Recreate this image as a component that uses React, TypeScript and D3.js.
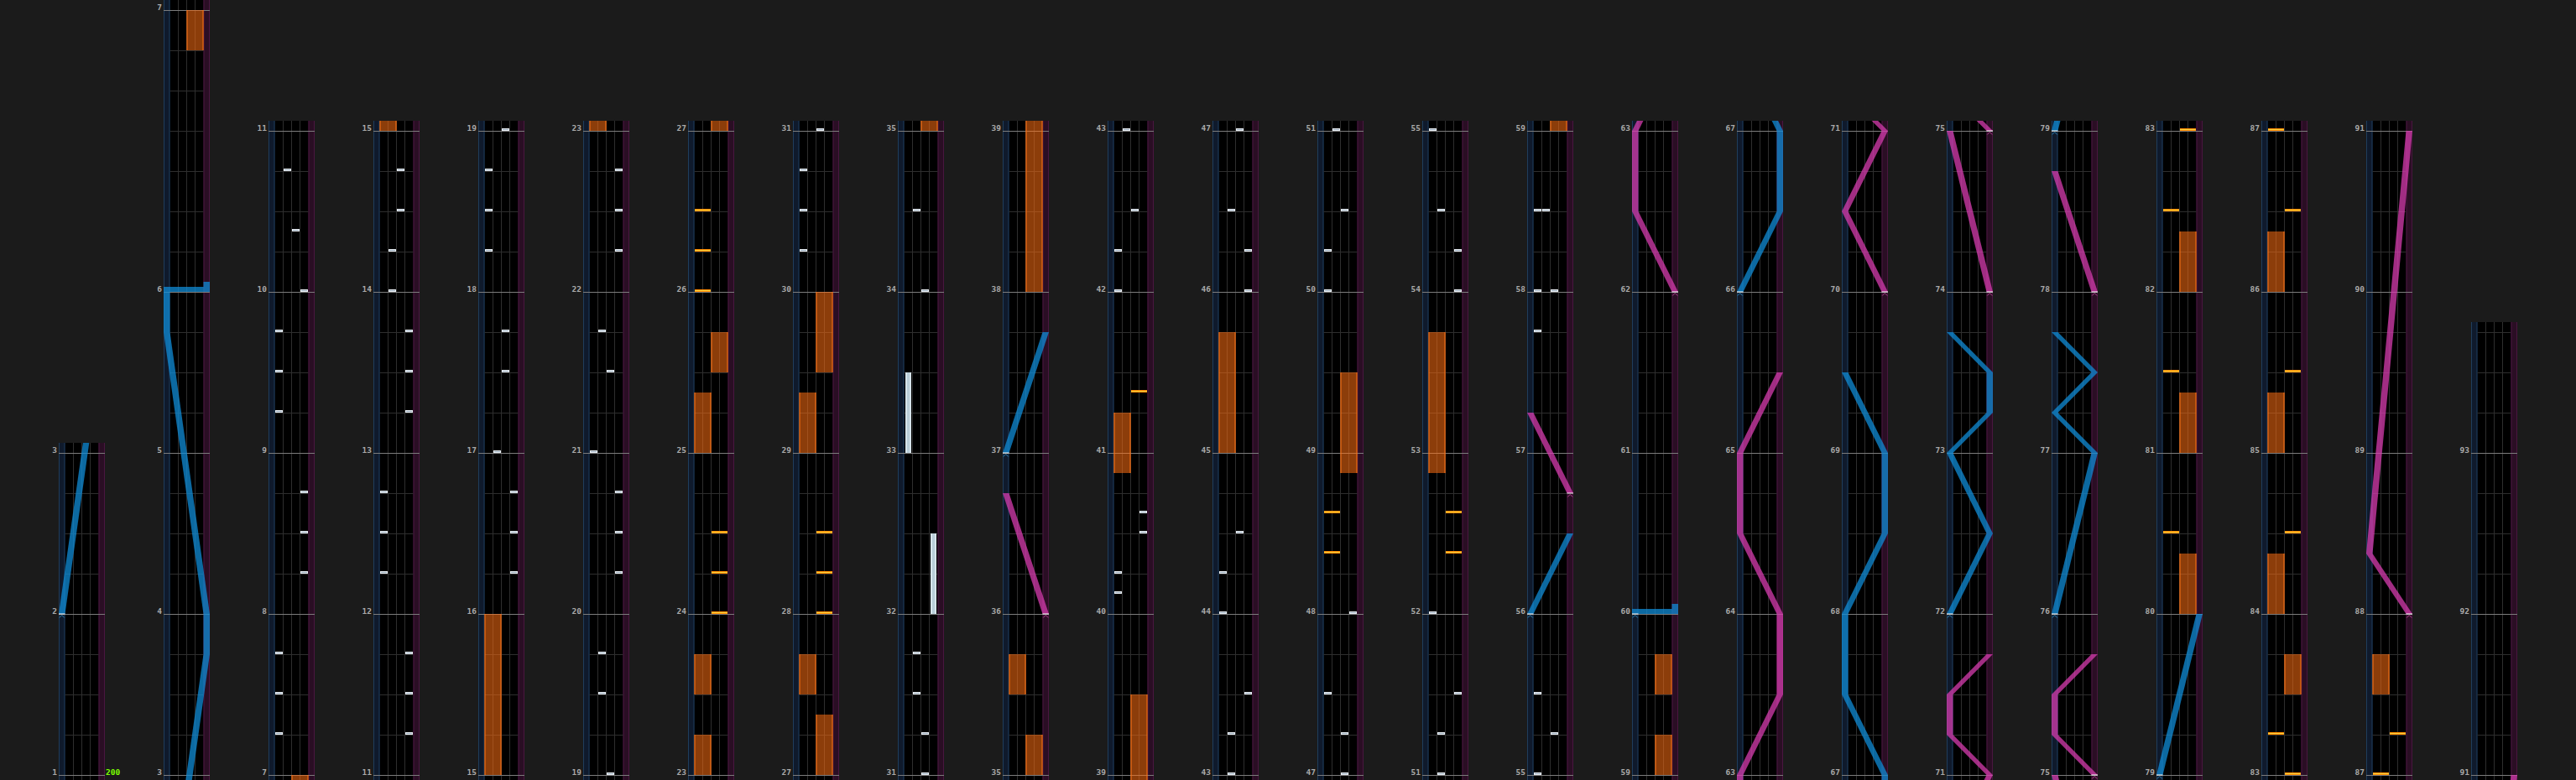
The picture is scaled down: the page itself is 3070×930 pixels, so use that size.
import React from 'react'
import * as d3 from 'd3'

// chart layout (measures / time signatures)
const LAST_MEASURE = 93
const SONG_END: [number, number] = [93, 3]
const ODD_MEASURES: [number, number][] = [[6, 7]]
const COLUMN_FIRST_MEASURES = [1, 3, 7, 11, 15, 19, 23, 27, 31, 35, 39, 43, 47, 51, 55, 59, 63, 67, 71, 75, 79, 83, 87, 91]
const BPM_CHANGES: [number, number, number][] = [[1, 0, 200]]

// [measure, beat, lane 0-3]
const btChips: [number, number, number][] = [
	[7, 1, 0], [7, 2, 0], [7, 3, 0],
	[8, 1, 3], [8, 2, 3], [8, 3, 3],
	[9, 1, 0], [9, 2, 0], [9, 3, 0],
	[10, 0, 3], [10, 1.5, 2], [10, 3, 1],
	[11, 1, 3], [11, 2, 3], [11, 3, 3],
	[12, 1, 0], [12, 2, 0], [12, 3, 0],
	[13, 1, 3], [13, 2, 3], [13, 3, 3],
	[14, 0, 1], [14, 1, 1], [14, 2, 2], [14, 3, 2],
	[16, 1, 3], [16, 2, 3], [16, 3, 3],
	[17, 0, 1], [17, 2, 2], [17, 3, 2],
	[18, 1, 0], [18, 2, 0], [18, 3, 0],
	[19, 0, 2], [19, 2, 1], [19, 3, 1],
	[20, 1, 3], [20, 2, 3], [20, 3, 3],
	[21, 0, 0], [21, 2, 2], [21, 3, 1],
	[22, 1, 3], [22, 2, 3], [22, 3, 3],
	[30, 1, 0], [30, 2, 0], [30, 3, 0],
	[31, 0, 2], [31, 1, 2], [31, 2, 1], [31, 3, 1],
	[34, 0, 2], [34, 2, 1],
	[40, 0.5, 0], [40, 1, 0], [40, 2, 3], [40, 2.5, 3],
	[42, 0, 0], [42, 1, 0], [42, 2, 2],
	[43, 0, 1], [43, 1, 1], [43, 2, 3],
	[44, 0, 0], [44, 1, 0], [44, 2, 2],
	[46, 0, 3], [46, 1, 3], [46, 2, 1],
	[47, 0, 2], [47, 1, 2], [47, 2, 0],
	[48, 0, 3],
	[50, 0, 0], [50, 1, 0], [50, 2, 2],
	[51, 0, 1], [51, 1, 1], [51, 2, 3],
	[52, 0, 0],
	[54, 0, 3], [54, 1, 3], [54, 2, 1],
	[55, 0, 0], [55, 1, 2], [55, 2, 0],
	[57, 3, 0],
	[58, 0, 0], [58, 0, 2], [58, 2, 0], [58, 2, 1],
]

// [measure, beat, endMeasure, endBeat, lane]
const btHolds: [number, number, number, number, number][] = [
	[32, 0, 32, 2, 3],
	[33, 0, 33, 2, 0],
]

// [measure, beat, side 0=L 1=R]
const fxChips: [number, number, number][] = [
	[24, 0, 1], [24, 1, 1], [24, 2, 1],
	[26, 0, 0], [26, 1, 0], [26, 2, 0],
	[28, 0, 1], [28, 1, 1], [28, 2, 1],
	[41, 1.5, 1],
	[48, 1.5, 0], [48, 2.5, 0],
	[52, 1.5, 1], [52, 2.5, 1],
	[80, 2, 0], [81, 2, 0], [82, 2, 0],
	[83, 0, 1], [83, 1, 0],
	[84, 2, 1], [85, 2, 1], [86, 2, 1],
	[87, 0, 0], [87, 1, 1],
]

// [measure, beat, endMeasure, endBeat, side]
const fxHolds: [number, number, number, number, number][] = [
	[6, 6, 7, 0, 1],
	[15, 0, 16, 0, 0],
	[23, 0, 23, 1, 0], [23, 2, 23, 3, 0],
	[25, 0, 25, 1.5, 0], [25, 2, 25, 3, 1],
	[27, 0, 27, 1.5, 1], [27, 2, 27, 3, 0],
	[29, 0, 29, 1.5, 0], [29, 2, 30, 0, 1],
	[35, 0, 35, 1, 1], [35, 2, 35, 3, 0],
	[38, 0, 39, 2, 1],
	[40, 3.5, 41, 1, 0],
	[45, 0, 45, 3, 0],
	[48, 3.5, 49, 2, 1],
	[52, 3.5, 53, 3, 0],
	[59, 0, 59, 1, 1], [59, 2, 59, 3, 1],
	[80, 0, 80, 1.5, 1], [81, 0, 81, 1.5, 1], [82, 0, 82, 1.5, 1],
	[83, 2, 83, 3, 1],
	[84, 0, 84, 1.5, 0], [85, 0, 85, 1.5, 0], [86, 0, 86, 1.5, 0],
	[87, 2, 87, 3, 0],
]

// laser paths: points [measure, beat, position 0-1]
const leftLasers: [number, number, number][][] = [
	[[2, 0, 0], [3, 3, 1], [4, 0, 1], [5, 3, 0], [6, 0, 0], [6, 0, 1]],
	[[37, 0, 0], [37, 3, 1]],
	[[56, 0, 0], [56, 2, 1]],
	[[60, 0, 0], [60, 0, 1]],
	[[66, 0, 0], [66, 2, 1], [67, 0, 1], [67, 2, 0], [68, 0, 0], [68, 2, 1], [69, 0, 1], [69, 2, 0]],
	[[72, 0, 0], [72, 2, 1], [73, 0, 0], [73, 1, 1], [73, 2, 1], [73, 3, 0]],
	[[76, 0, 0], [77, 0, 1], [77, 1, 0], [77, 2, 1], [77, 3, 0]],
	[[79, 0, 0], [80, 0, 1]],
]
const rightLasers: [number, number, number][][] = [
	[[36, 0, 1], [36, 3, 0]],
	[[56, 3, 1], [57, 1, 0]],
	[[62, 0, 1], [62, 2, 0], [63, 0, 0], [63, 2, 1], [64, 0, 1], [64, 2, 0], [65, 0, 0], [65, 2, 1]],
	[[70, 0, 1], [70, 2, 0], [71, 0, 1], [71, 1, 0], [71, 2, 0], [71, 3, 1]],
	[[74, 0, 1], [75, 0, 0]],
	[[75, 0, 1], [75, 1, 0], [75, 2, 0], [75, 3, 1]],
	[[78, 0, 1], [78, 3, 0]],
	[[88, 0, 1], [88, 1.5, 0], [91, 0, 1]],
]

const W = 3070
const H = 930
const BASE_Y = 924
const BEAT_PX = 48
const PAD = 12
const COL_W = 55
const LASER_W = 7.5
const SLAM_H = 6

const oddMap = new Map(ODD_MEASURES)
const measureStart: number[] = [0, 0]
for (let m = 1; m <= LAST_MEASURE + 1; m++) {
	measureStart[m + 1] = measureStart[m] + (oddMap.get(m) ?? 4)
}
const t = (m: number, b: number) => measureStart[m] + b

const colX = d3.scaleLinear().domain([0, 1]).range([70, 195])

const LASER_COLORS = ['rgba(16,140,215,0.75)', 'rgba(215,60,175,0.75)']

function Laser({ points, side, xPos, yOf, id }: any) {
	const shapes: React.ReactNode[] = []
	const fill = LASER_COLORS[side]
	let afterSlam = false
	for (let i = 0; i < points.length - 1; i++) {
		const [m1, b1, p1] = points[i]
		const [m2, b2, p2] = points[i + 1]
		const y1 = yOf(t(m1, b1))
		const y2 = yOf(t(m2, b2))
		if (Math.abs(y1 - y2) < 0.01) {
			const xa = Math.min(xPos(p1), xPos(p2)) - LASER_W / 2
			const xb = Math.max(xPos(p1), xPos(p2)) + LASER_W / 2
			shapes.push(<rect key={`${id}-s${i}`} x={xa} y={y1 - SLAM_H} width={xb - xa} height={SLAM_H} fill={fill} />)
			afterSlam = true
		} else {
			const ys = afterSlam ? y1 - SLAM_H : y1
			const xa = xPos(p1)
			const xb = xPos(p2)
			const pts = [
				[xa - LASER_W / 2, ys],
				[xa + LASER_W / 2, ys],
				[xb + LASER_W / 2, y2],
				[xb - LASER_W / 2, y2],
			]
			shapes.push(<polygon key={`${id}-p${i}`} points={pts.map((p) => p.join(',')).join(' ')} fill={fill} />)
			afterSlam = false
		}
	}
	if (afterSlam) {
		const [m, b, p] = points[points.length - 1]
		const y = yOf(t(m, b))
		shapes.push(
			<rect key={`${id}-tail`} x={xPos(p) - LASER_W / 2} y={y - SLAM_H * 2} width={LASER_W} height={SLAM_H} fill={fill} />,
		)
	}
	const [sm, sb, sp] = points[0]
	const sy = yOf(t(sm, sb))
	const sx = xPos(sp)
	shapes.push(
		<line key={`${id}-st`} x1={sx - LASER_W / 2} x2={sx + LASER_W / 2} y1={sy} y2={sy} stroke="#ffffff" strokeWidth={1} />,
		<polyline
			key={`${id}-mk`}
			points={`${sx - 3},${sy + 4.5} ${sx},${sy + 1.5} ${sx + 3},${sy + 4.5}`}
			fill="none"
			stroke={side === 0 ? '#2a80b0' : '#b0408f'}
			strokeWidth={1}
		/>,
	)
	return <g>{shapes}</g>
}

function Column({ index }: { index: number }) {
	const first = COLUMN_FIRST_MEASURES[index]
	const next = COLUMN_FIRST_MEASURES[index + 1]
	const startBeat = t(first, 0)
	const endBeat = next ? t(next, 0) : t(SONG_END[0], SONG_END[1])
	const x0 = colX(index)
	const y = d3.scaleLinear().domain([startBeat, startBeat + 1]).range([BASE_Y, BASE_Y - BEAT_PX])
	const top = y(endBeat) - PAD
	const bottom = BASE_Y + PAD
	const lane = d3.scaleBand<number>().domain([0, 1, 2, 3]).range([x0 + 7.5, x0 + 47.5])
	const fxLane = d3.scaleBand<number>().domain([0, 1]).range([x0 + 7.5, x0 + 47.5])
	const laserX = d3.scaleLinear().domain([0, 1]).range([x0 + LASER_W / 2, x0 + COL_W - LASER_W / 2])
	const lo = startBeat - 0.5
	const hi = endBeat + 0.5
	const inRange = (a: number, b: number) => b >= lo && a <= hi

	const lastMeasure = next ? next : LAST_MEASURE
	const measures = d3.range(first, lastMeasure + 1)
	const beatLines = d3.range(Math.ceil(startBeat), Math.floor(endBeat) + 1).filter((b) => !measures.some((m) => t(m, 0) === b))
	const clipId = `clip-${index}`

	return (
		<g>
			<defs>
				<clipPath id={clipId}>
					<rect x={x0} y={top} width={COL_W} height={bottom - top} />
				</clipPath>
			</defs>
			<g clipPath={`url(#${clipId})`}>
				<rect x={x0} y={top} width={COL_W} height={bottom - top} fill="#000" />
				<rect x={x0} y={top} width={7.5} height={bottom - top} fill="#0f1a2c" />
				<rect x={x0 + 47.5} y={top} width={7.5} height={bottom - top} fill="#2a0e24" />
				{[x0 + 0.5, x0 + 7].map((lx) => (
					<line key={lx} x1={lx} x2={lx} y1={top} y2={bottom} stroke="#1f3d5c" strokeWidth={1} />
				))}
				{[x0 + 48, x0 + 54.5].map((lx) => (
					<line key={lx} x1={lx} x2={lx} y1={top} y2={bottom} stroke="#4a1640" strokeWidth={1} />
				))}
				{[1, 2, 3].map((k) => (
					<line
						key={k}
						x1={x0 + 7.5 + k * 10}
						x2={x0 + 7.5 + k * 10}
						y1={top}
						y2={bottom}
						stroke="#2e2e2e"
						strokeWidth={1}
					/>
				))}
				{beatLines.map((b) => (
					<line key={b} x1={x0 + 7.5} x2={x0 + 47.5} y1={y(b) + 0.5} y2={y(b) + 0.5} stroke="#2e2e2e" strokeWidth={1} />
				))}
				{measures.map((m) => (
					<line key={m} x1={x0} x2={x0 + COL_W} y1={y(t(m, 0)) + 0.5} y2={y(t(m, 0)) + 0.5} stroke="#7c7c7c" strokeWidth={1} />
				))}

				{fxHolds
					.filter(([m1, b1, m2, b2]) => inRange(t(m1, b1), t(m2, b2)))
					.map(([m1, b1, m2, b2, s], i) => {
						const ya = y(t(m2, b2))
						const yb = y(t(m1, b1))
						const fx = fxLane(s) ?? 0
						return (
							<g key={`fh${i}`}>
								<rect x={fx} y={ya} width={fxLane.bandwidth()} height={yb - ya} fill="rgba(255,112,18,0.55)" />
								<line x1={fx + 0.5} x2={fx + 0.5} y1={ya} y2={yb} stroke="#ff7414" />
								<line x1={fx + 19.5} x2={fx + 19.5} y1={ya} y2={yb} stroke="#ff7414" />
							</g>
						)
					})}
				{btHolds
					.filter(([m1, b1, m2, b2]) => inRange(t(m1, b1), t(m2, b2)))
					.map(([m1, b1, m2, b2, l], i) => {
						const ya = y(t(m2, b2))
						const yb = y(t(m1, b1))
						const lx = (lane(l) ?? 0) + 1.5
						return (
							<g key={`bh${i}`}>
								<rect x={lx} y={ya} width={7} height={yb - ya} fill="#b9cdd8" />
								<rect x={lx + 0.5} y={ya} width={1} height={yb - ya} fill="#f4f9fc" />
								<rect x={lx + 5.5} y={ya} width={1} height={yb - ya} fill="#f4f9fc" />
							</g>
						)
					})}
				{fxChips
					.filter(([m, b]) => inRange(t(m, b), t(m, b)))
					.map(([m, b, s], i) => (
						<g key={`fc${i}`}>
							<rect x={(fxLane(s) ?? 0) + 0.5} y={y(t(m, b)) - 3} width={19} height={3} fill="#ff8a00" />
							<rect x={(fxLane(s) ?? 0) + 0.5} y={y(t(m, b)) - 2} width={19} height={1} fill="#ffd040" />
						</g>
					))}
				{btChips
					.filter(([m, b]) => inRange(t(m, b), t(m, b)))
					.map(([m, b, l], i) => (
						<g key={`bc${i}`}>
							<rect x={(lane(l) ?? 0) + 0.5} y={y(t(m, b)) - 3} width={9} height={3} fill="#e9eef3" />
							<rect x={(lane(l) ?? 0) + 1.5} y={y(t(m, b)) - 2} width={7} height={1} fill="#9fb0c0" />
						</g>
					))}
				{[leftLasers, rightLasers].map((group, side) =>
					group
						.filter((pts) => inRange(t(pts[0][0], pts[0][1]), t(pts[pts.length - 1][0], pts[pts.length - 1][1])))
						.map((pts, i) => <Laser key={`l${side}-${i}`} id={`l${index}-${side}-${i}`} points={pts} side={side} xPos={laserX} yOf={y} />),
				)}
			</g>
			{measures.map((m) => (
				<text
					key={`lab${m}`}
					x={x0 - 2}
					y={y(t(m, 0)) - 0.5}
					textAnchor="end"
					fontFamily="'DejaVu Sans Mono', monospace"
					fontWeight="bold"
					fontSize={9.5}
					fill="#a9a9a9"
				>
					{m}
				</text>
			))}
			{BPM_CHANGES.filter(([m, b]) => t(m, b) >= startBeat && t(m, b) < endBeat).map(([m, b, bpm]) => (
				<text
					key={`bpm${m}-${b}`}
					x={x0 + COL_W + 1}
					y={y(t(m, b)) - 0.5}
					fontFamily="'DejaVu Sans Mono', monospace"
					fontWeight="bold"
					fontSize={9.5}
					fill="#7cff00"
				>
					{bpm}
				</text>
			))}
		</g>
	)
}

export default function App() {
	return (
		<svg
			width={W}
			height={H}
			viewBox={`0 0 ${W} ${H}`}
			style={{ position: 'absolute', left: 0, top: 0, display: 'block' }}
		>
			<rect width={W} height={H} fill="#1b1b1b" />
			{COLUMN_FIRST_MEASURES.map((_, i) => (
				<Column key={i} index={i} />
			))}
		</svg>
	)
}
